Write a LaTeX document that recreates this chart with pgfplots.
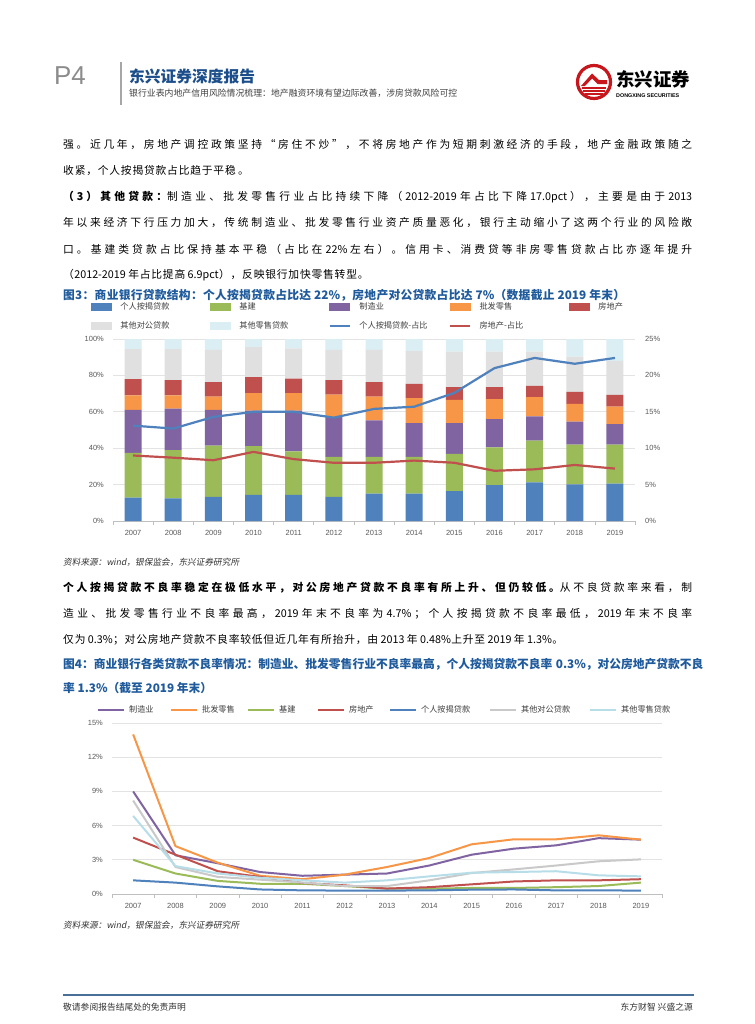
\documentclass[border=0pt]{standalone}
\usepackage{pgfplots}
\usepackage{pgfplotstable}
\pgfplotsset{compat=1.18}
\usepackage{fontspec}
\setmainfont{Noto Sans CJK SC}
\newfontfamily\lib{Liberation Sans}
\newfontfamily\srcf[FakeSlant=0.18]{Noto Sans CJK SC}
\newdimen\cjkgap \cjkgap=0pt
\XeTeXinterchartokenstate=1
\newXeTeXintercharclass\cjkc
\newcount\cc
\cc="4E00 \loop\XeTeXcharclass\cc=\cjkc \ifnum\cc<"9FFF \advance\cc by 1 \repeat
\cc="3000 \loop\XeTeXcharclass\cc=\cjkc \ifnum\cc<"303F \advance\cc by 1 \repeat
\cc="FF01 \loop\XeTeXcharclass\cc=\cjkc \ifnum\cc<"FF5E \advance\cc by 1 \repeat
\XeTeXcharclass"201C=\cjkc
\XeTeXcharclass"201D=\cjkc
\XeTeXinterchartoks\cjkc\cjkc={\hskip\cjkgap plus 1pt\relax}
\XeTeXinterchartoks\cjkc 0 ={\hskip0.5\cjkgap plus 1pt\relax}
\XeTeXinterchartoks 0 \cjkc={\hskip0.5\cjkgap plus 1pt\relax}
\definecolor{cBlue}{HTML}{4F81BD}
\definecolor{cGreen}{HTML}{9BBB59}
\definecolor{cPurple}{HTML}{8064A2}
\definecolor{cOrange}{HTML}{F79646}
\definecolor{cRed}{HTML}{C0504D}
\definecolor{cGray}{HTML}{E0E0E0}
\definecolor{cLBlue}{HTML}{DBEEF4}
\definecolor{cGray2}{HTML}{C9C9C9}
\definecolor{cLBlue2}{HTML}{B7DEE8}
\definecolor{cGrid}{HTML}{E3E3E3}
\definecolor{cAxis}{HTML}{BFBFBF}
\definecolor{cTick}{HTML}{595959}
\definecolor{cLeg}{HTML}{404040}
\definecolor{cTitle}{HTML}{1E5A9C}
\definecolor{cHead}{HTML}{1B4E8A}
\definecolor{cLogo}{HTML}{C8161D}
\definecolor{cFoot}{HTML}{4A6F99}
\newcommand{\bodyf}{\fontsize{10.8}{13}\selectfont\cjkgap=0.8bp\relax}
\newcommand{\titf}{\fontsize{11.8}{14}\selectfont\bfseries}
\newcommand{\tickf}{\lib\fontsize{7.5}{9}\selectfont}
\newcommand{\legf}{\fontsize{8.2}{10}\selectfont}
\newcommand{\jl}[1]{\hbox to 629bp{\spaceskip=0.3em\relax #1}}

\pgfplotstableread{
x blue green purple orange red gray lblue
0 12.8 24.6 23.7 7.9 8.9 16.6 5.5
1 12.4 26.5 22.8 7.3 8.4 17.1 5.5
2 13.3 28.1 19.7 7.3 7.9 17.7 6.0
3 14.4 26.7 19.5 9.7 8.7 16.6 4.4
4 14.4 23.9 22.3 9.7 8.0 16.6 5.1
5 13.3 21.9 21.9 12.4 7.9 16.6 6.0
6 15.0 20.2 20.1 13.1 7.9 17.7 6.0
7 15.0 20.2 18.6 13.7 7.9 18.0 6.6
8 16.4 20.5 16.9 12.8 6.9 19.6 6.9
9 19.7 20.8 15.5 11.0 6.5 19.6 6.9
10 21.2 23.0 13.3 10.6 6.2 18.8 6.9
11 20.1 21.9 12.6 9.8 6.6 19.3 9.7
12 20.6 21.4 11.3 9.5 6.5 18.7 12.0
}\structtab

\pgfplotstableread{
x mort re
0 13.1 9.0
1 12.7 8.7
2 14.3 8.35
3 15.0 9.5
4 15.0 8.5
5 14.2 8.0
6 15.4 8.0
7 15.7 8.3
8 17.6 8.0
9 21.0 6.9
10 22.4 7.1
11 21.6 7.7
12 22.4 7.2
}\sharetab

\pgfplotstableread{
x manu whole infra re mort corp retail
0 9.0 14.0 3.0 4.95 1.2 8.2 6.85
1 3.4 4.2 1.8 3.45 1.0 2.37 2.45
2 2.7 2.75 1.15 2.0 0.67 1.5 1.8
3 1.93 1.6 0.9 1.5 0.4 1.26 1.43
4 1.6 1.3 0.9 0.97 0.32 1.0 1.2
5 1.7 1.7 0.7 0.76 0.3 0.7 1.0
6 1.8 2.37 0.47 0.48 0.3 0.7 1.2
7 2.5 3.16 0.47 0.6 0.32 1.2 1.55
8 3.45 4.36 0.53 0.85 0.38 1.84 1.87
9 3.98 4.8 0.53 1.1 0.4 2.16 1.93
10 4.27 4.8 0.6 1.2 0.32 2.5 2.0
11 4.9 5.15 0.7 1.2 0.32 2.87 1.64
12 4.77 4.77 1.0 1.3 0.3 3.04 1.55
}\npltab

\pgfplotsset{
  pagechart/.style={
    scale only axis,
    xmin=-0.5, xmax=12.5,
    major tick length=0pt,
    xtick={0,...,12},
    xticklabels={2007,2008,2009,2010,2011,2012,2013,2014,2015,2016,2017,2018,2019},
    xticklabel style={font=\tickf, text=cTick, anchor=center, yshift=-12bp},
    yticklabel style={font=\tickf, text=cTick, anchor=east, inner sep=0pt, xshift=-9bp},
    extra x ticks={-0.5,0.5,...,12.5},
    extra x tick labels={},
    extra x tick style={major tick length=4bp, tick align=outside, major tick style={draw=cAxis, line width=0.6bp}},
    axis x line*=bottom, axis y line*=left,
    x axis line style={draw=cAxis, line width=0.8bp, -},
    y axis line style={draw=none},
    ymajorgrids, grid style={draw=cGrid, line width=0.8bp},
  },
}

\begin{document}
\begin{tikzpicture}[x=1bp,y=1bp]
\useasboundingbox (0,0) rectangle (755,-1024);
\fill[white] (0,0) rectangle (755,-1024);

% ---------- header ----------
\node[anchor=west, inner sep=0pt, text=black!45] at (54,-76) {\lib\fontsize{26}{28}\selectfont P4};
\draw[black!35, line width=1.2bp] (121,-62) -- (121,-105);
\node[anchor=west, inner sep=0pt, text=cHead] at (129,-76) {\fontsize{15.8}{18}\selectfont\bfseries 东兴证券深度报告};
\node[anchor=west, inner sep=0pt, text=black!75] at (129,-93) {\fontsize{8.9}{10}\selectfont 银行业表内地产信用风险情况梳理：地产融资环境有望边际改善，涉房贷款风险可控};
% logo
\draw[cLogo, line width=3.2bp] (594,-82) circle (16.5);
\fill[cLogo] (581,-86) -- (592,-73.5) -- (599,-80) -- (607,-80) -- (607,-84) -- (597.5,-84) -- (592,-78.5) -- (585,-86) -- cycle;
\fill[cLogo] (582,-89) rectangle (606,-87.4);
\fill[cLogo] (583,-92) rectangle (605,-90.4);
\fill[cLogo] (585,-95) rectangle (603,-93.4);
\node[anchor=west, inner sep=0pt] at (616,-79) {\fontsize{18.5}{20}\selectfont\bfseries 东兴证券};
\node[anchor=west, inner sep=0pt] at (616,-96) {\lib\fontsize{5.4}{6}\selectfont\bfseries DONGXING SECURITIES};

% ---------- paragraph 1 ----------
\node[anchor=west, inner sep=0pt] at (63,-145) {\bodyf\jl{强。近几年，房地产调控政策坚持“房住不炒”，不将房地产作为短期刺激经济的手段，地产金融政策随之}};
\node[anchor=west, inner sep=0pt] at (63,-171) {\bodyf 收紧，个人按揭贷款占比趋于平稳 。};

% ---------- paragraph 2 ----------
\node[anchor=west, inner sep=0pt] at (63,-197) {\bodyf\jl{{\bfseries （3）其他贷款：}制造业、批发零售行业占比持续下降（2012-2019 年占比下降 17.0pct），主要是由于 2013}};
\node[anchor=west, inner sep=0pt] at (63,-223) {\bodyf\jl{年以来经济下行压力加大，传统制造业、批发零售行业资产质量恶化，银行主动缩小了这两个行业的风险敞}};
\node[anchor=west, inner sep=0pt] at (63,-249) {\bodyf\jl{口。基建类贷款占比保持基本平稳（占比在 22\%左右）。信用卡、消费贷等非房零售贷款占比亦逐年提升}};
\node[anchor=west, inner sep=0pt] at (63,-275) {\bodyf （2012-2019 年占比提高 6.9pct），反映银行加快零售转型。};

% ---------- figure 3 title ----------
\node[anchor=west, inner sep=0pt, text=cTitle] at (63,-295) {\titf\hbox to 562bp{图3：商业银行贷款结构：个人按揭贷款占比达 22\%，房地产对公贷款占比达 7\%（数据截止 2019 年末）}};

% ---------- chart 1 : bars ----------
\begin{axis}[pagechart,
  at={(113bp,-521bp)}, anchor=south west,
  width=522bp, height=182bp,
  ymin=0, ymax=100,
  ytick={0,20,40,60,80,100},
  yticklabels={0\%,20\%,40\%,60\%,80\%,100\%},
  ybar stacked, bar width=17bp,
]
\addplot[fill=cBlue, draw=none] table[x=x, y=blue] {\structtab};
\addplot[fill=cGreen, draw=none] table[x=x, y=green] {\structtab};
\addplot[fill=cPurple, draw=none] table[x=x, y=purple] {\structtab};
\addplot[fill=cOrange, draw=none] table[x=x, y=orange] {\structtab};
\addplot[fill=cRed, draw=none] table[x=x, y=red] {\structtab};
\addplot[fill=cGray, draw=none] table[x=x, y=gray] {\structtab};
\addplot[fill=cLBlue, draw=none] table[x=x, y=lblue] {\structtab};
\end{axis}

% ---------- chart 1 : share lines (right axis) ----------
\begin{axis}[
  scale only axis,
  at={(113bp,-521bp)}, anchor=south west,
  width=522bp, height=182bp,
  xmin=-0.5, xmax=12.5, ymin=0, ymax=25,
  axis x line=none, axis y line*=right,
  y axis line style={draw=none},
  major tick length=0pt,
  ytick={0,5,10,15,20,25},
  yticklabels={0\%,5\%,10\%,15\%,20\%,25\%},
  yticklabel style={font=\tickf, text=cTick, anchor=west, inner sep=0pt, xshift=10bp},
  legend columns=5,
  legend cell align=left,
  legend style={draw=none, fill=none, inner sep=0pt, outer sep=0pt,
    at={(-0.042,1.124)}, anchor=west,
    font=\legf, text=cLeg, row sep=11bp,
    cells={anchor=center},
    /tikz/every odd column/.style={column sep=9bp},
    /tikz/every even column/.style={column sep=0pt},
    nodes={inner sep=0pt, text height=6.5bp, text depth=1.5bp}},
]
\addlegendimage{legend image code/.code={\fill[cBlue] (0bp,-3.5bp) rectangle (20bp,3.5bp);}}
\addlegendentry{\makebox[89.5bp][l]{个人按揭贷款}}
\addlegendimage{legend image code/.code={\fill[cGreen] (0bp,-3.5bp) rectangle (20bp,3.5bp);}}
\addlegendentry{\makebox[89.5bp][l]{基建}}
\addlegendimage{legend image code/.code={\fill[cPurple] (0bp,-3.5bp) rectangle (20bp,3.5bp);}}
\addlegendentry{\makebox[89.5bp][l]{制造业}}
\addlegendimage{legend image code/.code={\fill[cOrange] (0bp,-3.5bp) rectangle (20bp,3.5bp);}}
\addlegendentry{\makebox[89.5bp][l]{批发零售}}
\addlegendimage{legend image code/.code={\fill[cRed] (0bp,-3.5bp) rectangle (20bp,3.5bp);}}
\addlegendentry{\makebox[89.5bp][l]{房地产}}
\addlegendimage{legend image code/.code={\fill[cGray] (0bp,-3.5bp) rectangle (20bp,3.5bp);}}
\addlegendentry{\makebox[89.5bp][l]{其他对公贷款}}
\addlegendimage{legend image code/.code={\fill[cLBlue] (0bp,-3.5bp) rectangle (20bp,3.5bp);}}
\addlegendentry{\makebox[89.5bp][l]{其他零售贷款}}
\addplot[color=cBlue, line width=2.2bp, line join=round,
  legend image code/.code={\path[draw=none,fill=none] (0bp,-3.5bp) rectangle (20bp,3.5bp); \draw[cBlue, line width=1.6bp] (0bp,0bp) -- (20bp,0bp);}]
  table[x=x, y=mort] {\sharetab};
\addlegendentry{\makebox[89.5bp][l]{个人按揭贷款-占比}}
\addplot[color=cRed, line width=2.2bp, line join=round,
  legend image code/.code={\path[draw=none,fill=none] (0bp,-3.5bp) rectangle (20bp,3.5bp); \draw[cRed, line width=1.6bp] (0bp,0bp) -- (20bp,0bp);}]
  table[x=x, y=re] {\sharetab};
\addlegendentry{\makebox[89.5bp][l]{房地产-占比}}
\end{axis}

\node[anchor=west, inner sep=0pt, text=black!80] at (63,-562) {\srcf\fontsize{8.7}{10}\selectfont 资料来源：wind，银保监会，东兴证券研究所};

% ---------- paragraph 3 ----------
\node[anchor=west, inner sep=0pt] at (63,-588) {\bodyf\jl{{\bfseries 个人按揭贷款不良率稳定在极低水平，对公房地产贷款不良率有所上升、但仍较低。}从不良贷款率来看，制}};
\node[anchor=west, inner sep=0pt] at (63,-614) {\bodyf\jl{造业、批发零售行业不良率最高，2019 年末不良率为 4.7\%；个人按揭贷款不良率最低，2019 年末不良率}};
\node[anchor=west, inner sep=0pt] at (63,-640) {\bodyf 仅为 0.3\%；对公房地产贷款不良率较低但近几年有所抬升，由 2013 年 0.48\%上升至 2019 年 1.3\%。};

% ---------- figure 4 title ----------
\node[anchor=west, inner sep=0pt, text=cTitle] at (63,-664) {\titf\jl{图4：商业银行各类贷款不良率情况：制造业、批发零售行业不良率最高，个人按揭贷款不良率 0.3\%，对公房地产贷款不良}};
\node[anchor=west, inner sep=0pt, text=cTitle] at (63,-688) {\titf 率 1.3\%（截至 2019 年末）};

% ---------- chart 2 : NPL lines ----------
\begin{axis}[pagechart,
  at={(112bp,-894bp)}, anchor=south west,
  width=550bp, height=171bp,
  ymin=0, ymax=15,
  ytick={0,3,6,9,12,15},
  yticklabels={0\%,3\%,6\%,9\%,12\%,15\%},
  legend columns=7,
  legend cell align=left,
  legend style={draw=none, fill=none, inner sep=0pt, outer sep=0pt,
    at={(-0.027,1.076)}, anchor=west,
    font=\legf, text=cLeg,
    cells={anchor=center},
    /tikz/every odd column/.style={column sep=4bp},
    /tikz/every even column/.style={column sep=0pt},
    nodes={inner sep=0pt, text height=6.5bp, text depth=1.5bp}},
  every axis plot/.append style={line width=2bp, line join=round},
]
\addplot[color=cPurple, legend image code/.code={\path[draw=none,fill=none] (0bp,-3.5bp) rectangle (26bp,3.5bp); \draw[cPurple, line width=2bp] (0bp,0bp) -- (26bp,0bp);}] table[x=x, y=manu] {\npltab};
\addlegendentry{\makebox[41bp][l]{制造业}}
\addplot[color=cOrange, legend image code/.code={\path[draw=none,fill=none] (0bp,-3.5bp) rectangle (26bp,3.5bp); \draw[cOrange, line width=2bp] (0bp,0bp) -- (26bp,0bp);}] table[x=x, y=whole] {\npltab};
\addlegendentry{\makebox[45bp][l]{批发零售}}
\addplot[color=cGreen, legend image code/.code={\path[draw=none,fill=none] (0bp,-3.5bp) rectangle (26bp,3.5bp); \draw[cGreen, line width=2bp] (0bp,0bp) -- (26bp,0bp);}] table[x=x, y=infra] {\npltab};
\addlegendentry{\makebox[38bp][l]{基建}}
\addplot[color=cRed, legend image code/.code={\path[draw=none,fill=none] (0bp,-3.5bp) rectangle (26bp,3.5bp); \draw[cRed, line width=2bp] (0bp,0bp) -- (26bp,0bp);}] table[x=x, y=re] {\npltab};
\addlegendentry{\makebox[40bp][l]{房地产}}
\addplot[color=cBlue, legend image code/.code={\path[draw=none,fill=none] (0bp,-3.5bp) rectangle (26bp,3.5bp); \draw[cBlue, line width=2bp] (0bp,0bp) -- (26bp,0bp);}] table[x=x, y=mort] {\npltab};
\addlegendentry{\makebox[68bp][l]{个人按揭贷款}}
\addplot[color=cGray2, legend image code/.code={\path[draw=none,fill=none] (0bp,-3.5bp) rectangle (26bp,3.5bp); \draw[cGray2, line width=2bp] (0bp,0bp) -- (26bp,0bp);}] table[x=x, y=corp] {\npltab};
\addlegendentry{\makebox[68bp][l]{其他对公贷款}}
\addplot[color=cLBlue2, legend image code/.code={\path[draw=none,fill=none] (0bp,-3.5bp) rectangle (26bp,3.5bp); \draw[cLBlue2, line width=2bp] (0bp,0bp) -- (26bp,0bp);}] table[x=x, y=retail] {\npltab};
\addlegendentry{其他零售贷款}
\end{axis}

\node[anchor=west, inner sep=0pt, text=black!80] at (63,-925) {\srcf\fontsize{8.7}{10}\selectfont 资料来源：wind，银保监会，东兴证券研究所};

% ---------- footer ----------
\draw[cFoot, line width=1.8bp] (63,-995) -- (694,-995);
\node[anchor=west, inner sep=0pt, text=black!80] at (63,-1007) {\fontsize{8.8}{10}\selectfont 敬请参阅报告结尾处的免责声明};
\node[anchor=east, inner sep=0pt, text=black!80] at (693,-1007) {\fontsize{8.8}{10}\selectfont 东方财智\ 兴盛之源};
\end{tikzpicture}
\end{document}
